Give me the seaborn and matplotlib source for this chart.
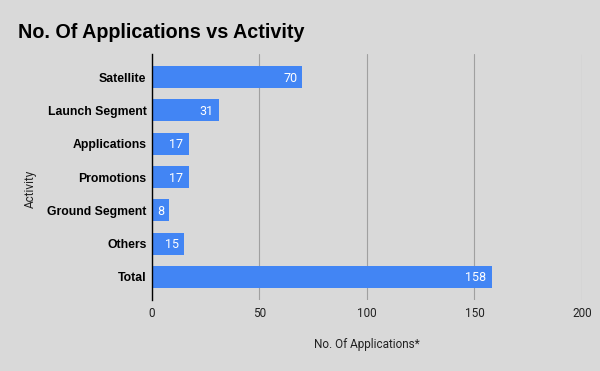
import matplotlib
matplotlib.use("Agg")
import matplotlib.pyplot as plt
import seaborn as sns
import pandas as pd

categories = ["Satellite", "Launch Segment", "Applications", "Promotions", "Ground Segment", "Others", "Total"]
values = [70, 31, 17, 17, 8, 15, 158]
xticks = [0, 50, 100, 150, 200]

bg = "#d9d9d9"
sns.set_theme(style="white")
plt.rcParams["font.family"] = ["Liberation Sans", "DejaVu Sans"]

df = pd.DataFrame({"Activity": categories, "Count": values})

fig = plt.figure(figsize=(6, 3.71), dpi=100, facecolor=bg)
ax = fig.add_axes([0.2533, 0.1914, 0.97 - 0.2533, 0.8544 - 0.1914])
ax.set_facecolor(bg)

sns.barplot(data=df, x="Count", y="Activity", color="#4285f4", saturation=1,
            width=0.66, ax=ax, zorder=3, linewidth=0, edgecolor="none")

for i, v in enumerate(values):
    ax.text(v - 2.4, i + 0.03, str(v), color="white", ha="right", va="center",
            fontsize=9, family=["Roboto", "DejaVu Sans"], zorder=4)

ax.set_xlim(0, 200)
ax.set_ylim(6.69, -0.69)
ax.set_xticks(xticks)
ax.set_xticklabels([str(t) for t in xticks], fontsize=8.5, color="#222222",
                   family=["Roboto", "DejaVu Sans"])
ax.xaxis.grid(True, color="#a0a0a0", linewidth=0.8, zorder=0)
ax.set_axisbelow(True)
for s in ["top", "right", "bottom"]:
    ax.spines[s].set_visible(False)
ax.spines["left"].set_color("#000000")
ax.spines["left"].set_linewidth(1.0)
ax.spines["left"].set_zorder(5)
ax.tick_params(axis="y", length=0, pad=4)
ax.tick_params(axis="x", length=0, pad=5)
for lbl in ax.get_yticklabels():
    lbl.set_fontweight("bold")
    lbl.set_fontsize(8.8)
    lbl.set_color("#000000")

ax.set_xlabel("No. Of Applications*", fontsize=8.5, color="#222222",
              family=["Roboto", "DejaVu Sans"], labelpad=13)
ax.set_ylabel("Activity", fontsize=8.5, color="#222222",
              family=["Roboto", "DejaVu Sans"])
ax.yaxis.set_label_coords(-0.268, 0.45)

fig.text(0.03, 0.912, "No. Of Applications vs Activity", fontsize=14.2,
         fontweight="bold", color="#000000", va="center", ha="left")

fig.savefig("out.png", dpi=100, facecolor=bg)
